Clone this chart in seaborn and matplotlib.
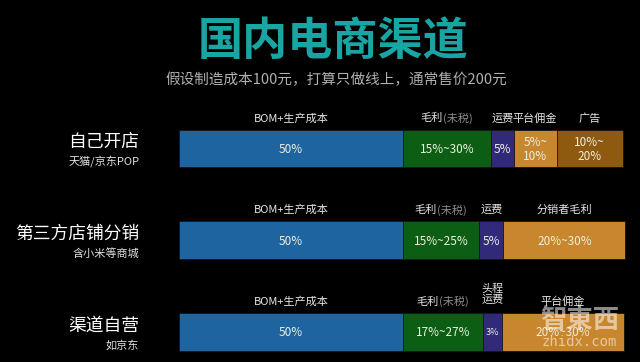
import pandas as pd
import matplotlib.pyplot as plt
import seaborn as sns

# 渠道 (rows) and their cost segments, % of the 200元 retail price
rows = ['自己开店', '第三方店铺分销', '渠道自营']
subs = ['天猫/京东POP', '含小米等商城', '如京东']
seg_names = [
    ['BOM+生产成本', '毛利', '运费', '平台佣金', '广告'],
    ['BOM+生产成本', '毛利', '运费', '分销者毛利'],
    ['BOM+生产成本', '毛利', '头程\n运费', '平台佣金'],
]
seg_values = [
    [50, 19.6, 5.1, 9.6, 14.7],
    [50, 17.0, 5.4, 27.2],
    [50, 17.9, 4.2, 27.2],
]
seg_text = [
    ['50%', '15%~30%', '5%', '5%~\n10%', '10%~\n20%'],
    ['50%', '15%~25%', '5%', '20%~30%'],
    ['50%', '17%~27%', '3%', '20%~30%'],
]
colors = ['#1e64a0', '#0b5e14', '#312a7a', '#c8862e', '#8e5a10']

sns.set_theme(style='white', rc={'figure.facecolor': 'black', 'axes.facecolor': 'black'})
plt.rcParams['font.family'] = ['Noto Sans CJK SC', 'DejaVu Sans']

# long table with cumulative ends of each segment
recs = []
for r, vals in zip(rows, seg_values):
    cum = 0
    for k, v in enumerate(vals):
        start = cum
        cum += v
        recs.append({'row': r, 'seg': k, 'start': start, 'end': cum, 'value': v})
df = pd.DataFrame(recs)

fig = plt.figure(figsize=(6.4, 3.62), dpi=100)
ax = fig.add_axes([0, 0, 1, 1])

# stacked bars: draw the longest cumulative first, overlay shorter ones
for k in range(len(colors) - 1, -1, -1):
    sub = df[df['seg'] == k]
    sns.barplot(data=sub, x='end', y='row', order=rows, orient='h', color=colors[k],
                saturation=1, width=0.41, errorbar=None, edgecolor='#141414',
                linewidth=0.6, ax=ax)

ax.set_xlim(-40, 102.9)
ax.set_ylim(2.327, -1.619)
ax.axis('off')

for i, r in enumerate(rows):
    d = df[df['row'] == r]
    for _, s in d.iterrows():
        k = int(s['seg'])
        cx = (s['start'] + s['end']) / 2
        name = seg_names[i][k]
        fs_in = 6.5 if seg_text[i][k] == '3%' else 8.5
        ax.text(cx, i + 0.01, seg_text[i][k], ha='center', va='center',
                color='#eeeedd', fontsize=fs_in, linespacing=1.1)
        if name == '毛利':
            ax.text(cx - 0.9, i - 0.33, '毛利', ha='right', va='center',
                    color='#e6e6e6', fontsize=8)
            ax.text(cx - 0.9, i - 0.33, '(未税)', ha='left', va='center',
                    color='#8a8a8a', fontsize=8)
        elif '\n' in name:
            ax.text(cx, i - 0.41, name, ha='center', va='center',
                    color='#e6e6e6', fontsize=8, linespacing=1.05)
        else:
            ax.text(cx, i - 0.33, name, ha='center', va='center',
                    color='#e6e6e6', fontsize=8)
    ax.text(-8.9, i - 0.07, r, ha='right', va='center', color='white', fontsize=12.8)
    ax.text(-8.9, i + 0.14, subs[i], ha='right', va='center', color='#e0e0e0', fontsize=8)

# watermark
ax.text(89.4, 1.88, '智東西', ha='center', va='center', color='white', alpha=0.55,
        fontsize=19, fontweight='bold', family=['Noto Sans CJK TC', 'DejaVu Sans'])
ax.text(89.4, 2.11, 'zhidx.com', ha='center', va='center', color='white', alpha=0.55,
        fontsize=10, family='DejaVu Sans Mono')

fig.text(0.52, 0.885, '国内电商渠道', ha='center', va='center', color='#1aa5a5',
         fontsize=32.5, fontweight='bold')
fig.text(0.525, 0.779, '假设制造成本100元，打算只做线上，通常售价200元', ha='center', va='center',
         color='#b0b0b0', fontsize=10.5)

fig.savefig('out.png', dpi=100, facecolor='black')
